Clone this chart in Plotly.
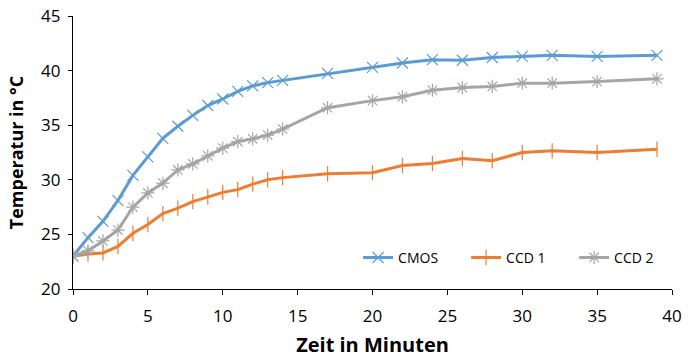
import plotly.graph_objects as go

minutes = [0, 1, 2, 3, 4, 5, 6, 7, 8, 9, 10, 11, 12, 13, 14, 17, 20, 22, 24, 26, 28, 30, 32, 35, 39]
cmos = [23.0, 24.7, 26.2, 28.1, 30.4, 32.1, 33.8, 34.9, 35.9, 36.8, 37.4, 38.1, 38.6, 38.9, 39.1,
        39.75, 40.3, 40.7, 41.0, 40.95, 41.2, 41.3, 41.4, 41.3, 41.4]
ccd1 = [23.0, 23.2, 23.3, 23.9, 25.1, 25.9, 26.9, 27.4, 28.0, 28.45, 28.85, 29.1, 29.6, 30.0, 30.2,
        30.55, 30.65, 31.3, 31.5, 31.95, 31.75, 32.5, 32.65, 32.5, 32.8]
ccd2 = [23.0, 23.5, 24.4, 25.4, 27.5, 28.8, 29.7, 30.9, 31.45, 32.2, 32.9, 33.5, 33.75, 34.1, 34.65,
        36.6, 37.25, 37.6, 38.2, 38.45, 38.55, 38.85, 38.85, 39.0, 39.25]

series = [
    ("CMOS", cmos, "#5B9BD5", "x-thin"),
    ("CCD 1", ccd1, "#ED7D31", "line-ns"),
    ("CCD 2", ccd2, "#A5A5A5", "asterisk"),
]

fig = go.Figure()
for name, vals, color, sym in series:
    fig.add_trace(go.Scatter(
        x=minutes, y=vals, name=name, mode="lines+markers",
        line=dict(color=color, width=3),
        marker=dict(symbol=sym, size=11, line=dict(color=color, width=1.2), color=color),
    ))

font_family = "Open Sans, Noto Sans, sans-serif"
fig.update_layout(
    width=693, height=358,
    margin=dict(l=73, r=11, t=16, b=69),
    paper_bgcolor="white", plot_bgcolor="white",
    font=dict(family=font_family, color="black", size=17),
    showlegend=True,
    legend=dict(
        orientation="h", x=0.476, y=0.114, xanchor="left", yanchor="middle",
        font=dict(size=14, color="black"), bgcolor="rgba(0,0,0,0)",
        entrywidth=63, itemwidth=30, tracegroupgap=0,
    ),
    xaxis=dict(
        range=[0, 40], tickvals=[0, 5, 10, 15, 20, 25, 30, 35, 40],
        showgrid=False, zeroline=False, showline=True, linecolor="black", linewidth=1.3,
        ticks="outside", ticklen=5, tickcolor="black", automargin=False,
        tickfont=dict(size=17), ticklabelstandoff=6, ticklabeloverflow="allow",
        title=dict(text="<b>Zeit in Minuten</b>", font=dict(size=20), standoff=14),
    ),
    yaxis=dict(
        range=[20, 45], tickvals=[20, 25, 30, 35, 40, 45],
        showgrid=False, zeroline=False, showline=True, linecolor="black", linewidth=1.3,
        ticks="outside", ticklen=4, tickcolor="black", automargin=False,
        tickfont=dict(size=17), ticklabelstandoff=4, ticklabeloverflow="allow",
        title=dict(text="<b>Temperatur in °C</b>", font=dict(size=18), standoff=12),
    ),
)

fig.write_html("out.html", config={"displayModeBar": False},
               post_script="document.body.style.margin='0';")
